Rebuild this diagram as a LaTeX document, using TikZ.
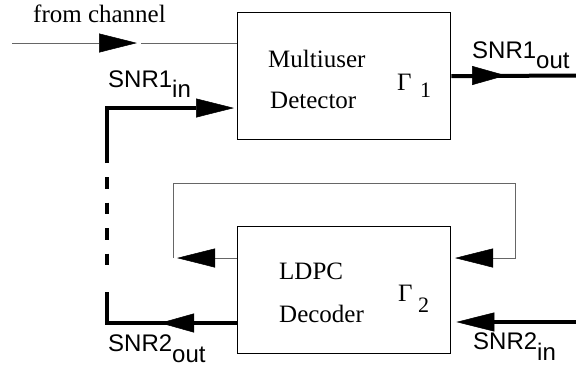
\documentclass[tikz,border=0pt]{standalone}
\usepackage{fontspec}
\setmainfont{Liberation Serif}
\newfontfamily\hvfont{Liberation Sans}
\usetikzlibrary{arrows.meta}
\begin{document}
\begin{tikzpicture}[x=1pt,y=-1pt,
  blk/.style={draw, line width=1.3pt, rectangle, minimum width=213pt, minimum height=127pt, anchor=north west, inner sep=0pt},
  lbl/.style={anchor=base west, inner sep=0pt, font=\fontsize{25}{30}\selectfont},
  sublbl/.style={anchor=base west, inner sep=0pt, font=\fontsize{22}{26}\selectfont},
  snr/.style={anchor=base west, inner sep=0pt, font=\hvfont\fontsize{24}{28}\selectfont},
  thinline/.style={line width=1pt, draw=black!60},
  thickline/.style={line width=4pt, line join=miter},
  thintip/.style={-{Triangle[length=38pt,width=19pt,line width=0.5pt,color=black]}},
  longtip/.style={-{Triangle[length=38pt,width=19pt,line width=0.5pt]}},
  shorttip/.style={-{Triangle[length=34pt,width=19pt,line width=0.5pt]}},
]
\useasboundingbox (0,0) rectangle (576,368);

% blocks
\node[blk] (mud) at (237,12) {};
\node[blk] (ldpc) at (237,226) {};

% block texts
\node[lbl] (t1) at (268,67) {Multiuser};
\node[lbl] (t2) at (270,108) {Detector};
\node[lbl] (g1) at (397,90) {Γ};
\node[sublbl] (g1s) at (420,97) {1};
\node[lbl] (t3) at (279,279) {LDPC};
\node[lbl] (t4) at (279,322) {Decoder};
\node[lbl] (g2) at (398,301) {Γ};
\node[sublbl] (g2s) at (418,312) {2};

% other labels
\node[lbl] (fc) at (33,22) {from channel};
\node[snr] (s1i) at (108,87) {SNR1\raisebox{-10pt}{in}};
\node[snr] (s1o) at (472,58) {SNR1\raisebox{-10pt}{out}};
\node[snr] (s2o) at (108,351) {SNR2\raisebox{-11pt}{out}};
\node[snr] (s2i) at (473,349) {SNR2\raisebox{-11pt}{in}};

% from channel
\coordinate (fcA) at (12,43);
\coordinate (fcB) at (97,43);
\coordinate (fcC) at (137,43);
\coordinate (fcD) at (141,43);
\draw[thinline] (fcA) -- (fcB);
\draw[thinline, thintip] (fcB) -- (fcC);
\draw[thinline] (fcD) -- (fcD -| mud.west);

% SNR1 out
\coordinate (o1end) at (576,75.5);
\coordinate (o1a) at (472,75.5);
\coordinate (o1b) at (506,75.5);
\draw[thickline] (mud.east) -- (o1end);
\draw[thickline, shorttip] (o1a) -- (o1b);

% SNR1 in
\coordinate (i1a) at (107,163);
\coordinate (i1b) at (107,108);
\draw[thickline, longtip, shorten >=3pt] (i1a) -- (i1b) -- (i1b -| mud.west);

% dashed link
\coordinate (dA) at (107,177);
\coordinate (dB) at (107,266);
\draw[thickline, dash pattern=on 11.5pt off 14pt] (dA) -- (dB);

% SNR2 out
\coordinate (o2a) at (107,292);
\coordinate (o2b) at (107,323);
\coordinate (o2c) at (194,323);
\coordinate (o2d) at (160,323);
\draw[thickline] (o2b -| ldpc.west) -- (o2b) -- (o2a);
\draw[thickline, shorttip] (o2c) -- (o2d);

% SNR2 in
\coordinate (i2) at (576,322);
\draw[thickline, longtip, shorten >=5pt] (i2) -- (i2 -| ldpc.east);

% feedback loop
\coordinate (la) at (215,258);
\coordinate (lb) at (177,258);
\coordinate (lc) at (173,258);
\coordinate (ld) at (173,183);
\coordinate (le) at (515,183);
\coordinate (lf) at (515,258);
\coordinate (lg) at (493,258);
\coordinate (lh) at (455,258);
\draw[thinline] (la -| ldpc.west) -- (la);
\draw[thinline, thintip] (la) -- (lb);
\draw[thinline] (lc) -- (ld) -- (le) -- (lf) -- (lg);
\draw[thinline, thintip] (lg) -- (lh);
\end{tikzpicture}
\end{document}
